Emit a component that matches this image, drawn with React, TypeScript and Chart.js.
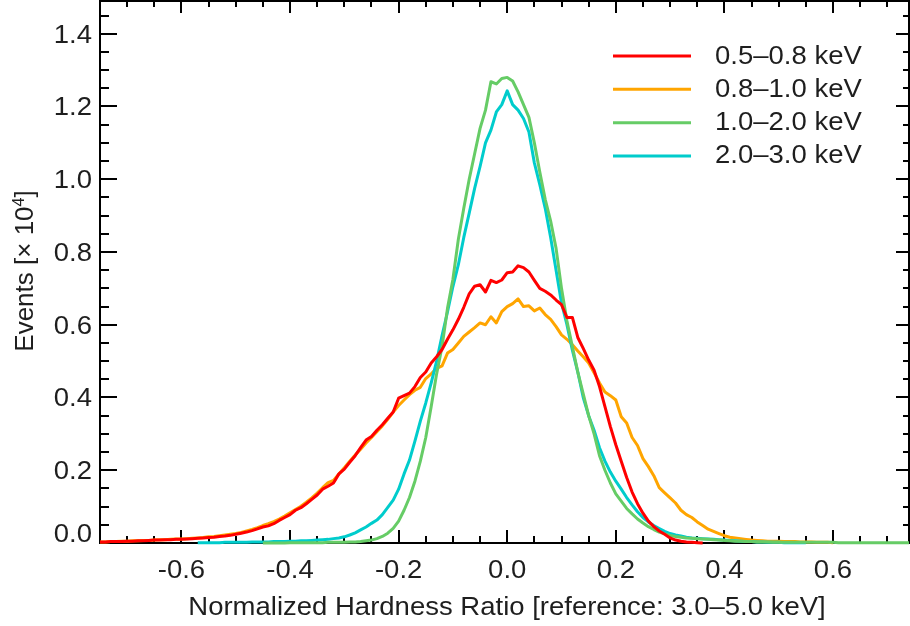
import React, { useEffect, useRef } from "react";
import { Chart, registerables } from "chart.js";

Chart.register(...registerables);

// Bin centres of the hardness-ratio histogram (step 0.01, from -0.75 to 0.74)
const hardnessBins: number[] = Array.from({ length: 150 }, (_, i) => (-75 + i) / 100);

// Events [x 10^4] per bin, one array per energy band (null = no line drawn)
const band05to08: (number | null)[] = [
  0.003, 0.003, 0.004, 0.004, 0.004, 0.005, 0.005, 0.006, 0.006, 0.007,
  0.008, 0.008, 0.009, 0.009, 0.010, 0.010, 0.011, 0.012, 0.013, 0.014,
  0.015, 0.016, 0.018, 0.019, 0.021, 0.024, 0.027, 0.030, 0.034, 0.039,
  0.044, 0.047, 0.053, 0.062, 0.070, 0.078, 0.090, 0.097, 0.108, 0.120,
  0.132, 0.148, 0.156, 0.165, 0.190, 0.203, 0.222, 0.240, 0.262, 0.283,
  0.293, 0.310, 0.325, 0.343, 0.360, 0.398, 0.405, 0.412, 0.430, 0.455,
  0.470, 0.495, 0.512, 0.532, 0.560, 0.586, 0.615, 0.648, 0.685, 0.706,
  0.710, 0.690, 0.722, 0.716, 0.723, 0.743, 0.745, 0.762, 0.757, 0.745,
  0.722, 0.700, 0.692, 0.682, 0.668, 0.655, 0.620, 0.620, 0.565, 0.535,
  0.503, 0.475, 0.430, 0.375, 0.320, 0.270, 0.225, 0.180, 0.140, 0.108,
  0.082, 0.060, 0.045, 0.033, 0.024, 0.014, 0.008, 0.005, 0.003, 0.002,
  0.001, 0.000, null, null, null, null, null, null, null, null,
  null, null, null, null, null, null, null, null, null, null,
  null, null, null, null, null, null, null, null, null, null,
  null, null, null, null, null, null, null, null, null, null,
];

const band08to10: (number | null)[] = [
  0.003, 0.003, 0.004, 0.004, 0.005, 0.005, 0.006, 0.006, 0.007, 0.007,
  0.008, 0.009, 0.009, 0.010, 0.011, 0.011, 0.012, 0.013, 0.014, 0.015,
  0.017, 0.018, 0.020, 0.022, 0.024, 0.026, 0.029, 0.033, 0.037, 0.042,
  0.048, 0.053, 0.059, 0.066, 0.074, 0.083, 0.092, 0.101, 0.112, 0.124,
  0.137, 0.152, 0.166, 0.172, 0.190, 0.207, 0.225, 0.242, 0.258, 0.275,
  0.290, 0.306, 0.322, 0.340, 0.360, 0.378, 0.393, 0.408, 0.420, 0.428,
  0.452, 0.465, 0.480, 0.487, 0.522, 0.532, 0.550, 0.568, 0.580, 0.592,
  0.605, 0.600, 0.622, 0.605, 0.636, 0.650, 0.658, 0.671, 0.650, 0.652,
  0.638, 0.646, 0.628, 0.615, 0.595, 0.572, 0.560, 0.545, 0.528, 0.512,
  0.495, 0.468, 0.440, 0.415, 0.405, 0.393, 0.347, 0.330, 0.290, 0.268,
  0.232, 0.210, 0.185, 0.152, 0.138, 0.124, 0.110, 0.090, 0.078, 0.070,
  0.058, 0.048, 0.038, 0.032, 0.026, 0.020, 0.016, 0.014, 0.012, 0.010,
  0.008, 0.007, 0.006, 0.005, 0.005, 0.005, 0.004, 0.004, 0.004, 0.003,
  0.003, 0.003, 0.002, 0.002, 0.002, 0.001, null, null, null, null,
  null, null, null, null, null, null, null, null, null, null,
];

const band10to20: (number | null)[] = [
  null, null, null, null, null, null, null, null, null, null,
  null, null, null, null, null, null, null, null, null, null,
  null, null, null, null, null, null, null, null, null, null,
  0.000, 0.000, 0.000, 0.000, 0.000, 0.001, 0.001, 0.001, 0.001, 0.001,
  0.001, 0.001, 0.002, 0.002, 0.002, 0.002, 0.003, 0.003, 0.004, 0.006,
  0.008, 0.012, 0.018, 0.027, 0.040, 0.060, 0.090, 0.125, 0.170, 0.225,
  0.290, 0.375, 0.465, 0.540, 0.645, 0.725, 0.835, 0.920, 1.000, 1.070,
  1.140, 1.190, 1.268, 1.262, 1.277, 1.280, 1.270, 1.240, 1.205, 1.170,
  1.100, 1.020, 0.945, 0.885, 0.810, 0.700, 0.610, 0.540, 0.470, 0.410,
  0.350, 0.300, 0.240, 0.200, 0.165, 0.135, 0.115, 0.095, 0.080, 0.066,
  0.055, 0.045, 0.037, 0.030, 0.025, 0.021, 0.018, 0.016, 0.014, 0.013,
  0.012, 0.011, 0.010, 0.009, 0.008, 0.007, 0.006, 0.005, 0.005, 0.004,
  0.004, 0.003, 0.003, 0.003, 0.002, 0.002, 0.002, 0.002, 0.002, 0.002,
  0.002, 0.002, 0.002, 0.002, 0.002, 0.002, 0.001, 0.001, 0.001, 0.001,
  0.001, 0.001, 0.001, 0.001, 0.001, 0.001, 0.001, 0.001, 0.001, 0.001,
];

const band20to30: (number | null)[] = [
  null, null, null, null, null, null, null, null, null, null,
  null, null, null, null, null, null, null, null, 0.001, 0.001,
  0.001, 0.001, 0.001, 0.002, 0.002, 0.002, 0.002, 0.002, 0.003, 0.003,
  0.003, 0.003, 0.004, 0.004, 0.004, 0.005, 0.005, 0.006, 0.006, 0.007,
  0.008, 0.009, 0.010, 0.012, 0.014, 0.017, 0.022, 0.028, 0.036, 0.044,
  0.054, 0.063, 0.078, 0.098, 0.118, 0.148, 0.190, 0.228, 0.280, 0.335,
  0.385, 0.440, 0.500, 0.570, 0.635, 0.705, 0.765, 0.840, 0.907, 0.975,
  1.035, 1.100, 1.135, 1.185, 1.205, 1.243, 1.205, 1.190, 1.167, 1.130,
  1.045, 0.985, 0.920, 0.840, 0.750, 0.660, 0.600, 0.530, 0.470, 0.400,
  0.350, 0.310, 0.262, 0.225, 0.195, 0.170, 0.148, 0.125, 0.105, 0.086,
  0.070, 0.058, 0.048, 0.040, 0.032, 0.026, 0.022, 0.019, 0.016, 0.014,
  0.013, 0.012, 0.011, 0.010, 0.009, 0.008, 0.007, 0.006, 0.005, 0.004,
  0.004, 0.003, 0.003, 0.002, 0.002, 0.002, 0.001, 0.001, 0.001, 0.001,
  0.001, null, null, null, null, null, null, null, null, null,
  null, null, null, null, null, null, null, null, null, null,
];

const bandLabels = ["0.5–0.8 keV", "0.8–1.0 keV", "1.0–2.0 keV", "2.0–3.0 keV"];
const bandColors = ["#ff0000", "#ffa500", "#66cc66", "#00cccc"];
const bandDrawOrder = [0, 3, 1, 2]; // lower = drawn on top

const xTitle = "Normalized Hardness Ratio [reference: 3.0–5.0 keV]";
const yTitleMain = "Events [× 10";
const yTitleSup = "4";
const yTitleEnd = "]";

const X_MIN = -0.75;
const X_MAX = 0.74;
const Y_MIN = 0;
const Y_MAX = 1.49;

const FONT = '"Liberation Sans", Arial, Helvetica, sans-serif';
const TEXT_COLOR = "#1e1e1e";
const STRETCH = 1.1;

function drawStretched(ctx: CanvasRenderingContext2D, text: string, x: number, y: number, align: CanvasTextAlign) {
  ctx.save();
  ctx.translate(x, y);
  ctx.scale(STRETCH, 1);
  ctx.textAlign = align;
  ctx.fillText(text, 0, 0);
  ctx.restore();
}

const axesPlugin = {
  id: "idlAxes",
  beforeDatasetsDraw(chart: any) {
    const { ctx, chartArea: a, scales } = chart;
    const xs = scales.x;
    const ys = scales.y;
    ctx.save();
    ctx.strokeStyle = "#000";
    ctx.lineWidth = 2;
    ctx.strokeRect(a.left, a.top, a.right - a.left, a.bottom - a.top);
    ctx.beginPath();
    for (let k = -14; k <= 14; k++) {
      const px = Math.round(xs.getPixelForValue(k * 0.05));
      const major = k % 4 === 0;
      ctx.moveTo(px, a.bottom);
      ctx.lineTo(px, a.bottom - (major ? 13 : 7));
      ctx.moveTo(px, a.top);
      ctx.lineTo(px, a.top + (major ? 12 : 6));
    }
    for (let k = 1; k <= 29; k++) {
      const py = Math.round(ys.getPixelForValue(k * 0.05));
      const major = k % 4 === 0;
      ctx.moveTo(a.left, py);
      ctx.lineTo(a.left + (major ? 17 : 9), py);
      ctx.moveTo(a.right, py);
      ctx.lineTo(a.right - (major ? 13 : 6), py);
    }
    ctx.stroke();
    ctx.restore();
  },
  afterDraw(chart: any) {
    const { ctx, chartArea: a, scales } = chart;
    const xs = scales.x;
    const ys = scales.y;
    ctx.save();
    ctx.fillStyle = TEXT_COLOR;
    ctx.font = `25px ${FONT}`;
    ctx.textBaseline = "alphabetic";
    // x tick labels
    for (let k = -3; k <= 3; k++) {
      const v = k * 0.2;
      const px = xs.getPixelForValue(v);
      drawStretched(ctx, (k === 0 ? 0 : v).toFixed(1), px, a.bottom + 35, "center");
    }
    // y tick labels
    for (let k = 0; k <= 7; k++) {
      const v = k * 0.2;
      let py = ys.getPixelForValue(v);
      if (py > a.bottom - 10) py = a.bottom - 10;
      drawStretched(ctx, v.toFixed(1), a.left - 8, py + 9, "right");
    }
    // x title
    drawStretched(ctx, xTitle, 507, 615, "center");
    // y title (rotated)
    ctx.save();
    ctx.translate(33, 271);
    ctx.rotate(-Math.PI / 2);
    ctx.font = `26px ${FONT}`;
    const w1 = ctx.measureText(yTitleMain).width;
    const w3 = ctx.measureText(yTitleEnd).width;
    ctx.font = `16px ${FONT}`;
    const w2 = ctx.measureText(yTitleSup).width;
    const total = w1 + w2 + w3;
    let cx = -total / 2;
    ctx.textAlign = "left";
    ctx.font = `26px ${FONT}`;
    ctx.fillText(yTitleMain, cx, 0);
    cx += w1;
    ctx.font = `16px ${FONT}`;
    ctx.fillText(yTitleSup, cx, -9);
    cx += w2;
    ctx.font = `26px ${FONT}`;
    ctx.fillText(yTitleEnd, cx, 0);
    ctx.restore();
    // legend
    ctx.font = `25px ${FONT}`;
    for (let i = 0; i < bandLabels.length; i++) {
      const ly = 56 + i * 33.33;
      ctx.strokeStyle = bandColors[i];
      ctx.lineWidth = 3;
      ctx.beginPath();
      ctx.moveTo(613, ly);
      ctx.lineTo(691, ly);
      ctx.stroke();
      ctx.fillStyle = TEXT_COLOR;
      drawStretched(ctx, bandLabels[i], 715, ly + 7.5, "left");
    }
    ctx.restore();
  },
};

export default function App() {
  const ref = useRef<HTMLCanvasElement>(null);
  useEffect(() => {
    const canvas = ref.current;
    if (!canvas) return;
    const bands = [band05to08, band08to10, band10to20, band20to30];
    const datasets = bands.map((vals, k) => ({
      label: bandLabels[k],
      data: hardnessBins.map((x, i) => ({ x, y: vals[i] })),
      borderColor: bandColors[k],
      backgroundColor: bandColors[k],
      borderWidth: 3,
      pointRadius: 0,
      pointHoverRadius: 0,
      tension: 0,
      fill: false,
      spanGaps: false,
      clip: false as any,
      order: bandDrawOrder[k],
      borderJoinStyle: "round" as const,
    }));
    const chart = new Chart(canvas, {
      type: "line",
      data: { datasets },
      options: {
        responsive: false,
        animation: false,
        devicePixelRatio: 1,
        layout: { padding: { top: 1, right: 1, left: 0, bottom: 0 } },
        plugins: { legend: { display: false }, tooltip: { enabled: false } },
        scales: {
          x: {
            type: "linear",
            min: X_MIN,
            max: X_MAX,
            grid: { display: false },
            border: { display: false },
            ticks: { display: false },
            afterFit: (s: any) => {
              s.height = 83;
            },
          },
          y: {
            min: Y_MIN,
            max: Y_MAX,
            grid: { display: false },
            border: { display: false },
            ticks: { display: false },
            afterFit: (s: any) => {
              s.width = 100;
            },
          },
        },
      },
      plugins: [axesPlugin],
    });
    return () => chart.destroy();
  }, []);
  return (
    <div style={{ position: "absolute", left: 0, top: 0, width: 910, height: 626, background: "#fff" }}>
      <canvas ref={ref} width={910} height={626} style={{ display: "block", width: 910, height: 626 }} />
    </div>
  );
}
